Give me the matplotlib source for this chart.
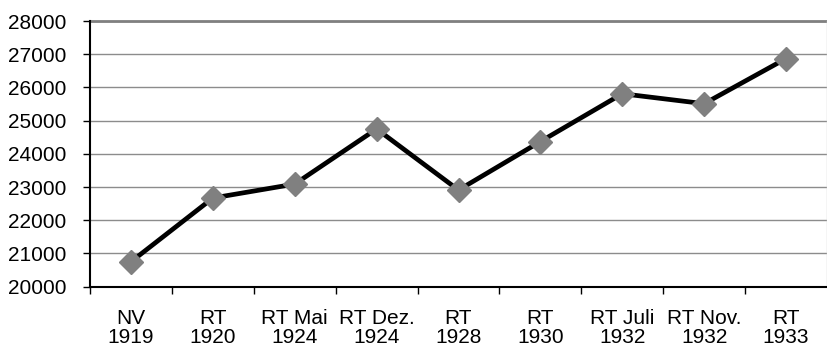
import matplotlib
matplotlib.use("Agg")
import matplotlib.pyplot as plt
import numpy as np

categories = ["NV\n1919", "RT\n1920", "RT Mai\n1924", "RT Dez.\n1924", "RT\n1928",
              "RT\n1930", "RT Juli\n1932", "RT Nov.\n1932", "RT\n1933"]
values = [20750, 22670, 23090, 24750, 22910, 24370, 25810, 25510, 26870]
yticks = [20000, 21000, 22000, 23000, 24000, 25000, 26000, 27000, 28000]

plt.rcParams['font.family'] = ['Liberation Sans', 'DejaVu Sans']

fig = plt.figure(figsize=(8.27, 3.47), dpi=100)
ax = fig.add_axes([90/827, 60.3/347, 737/827, (286.7-21)/347])

x = np.arange(len(categories))
ax.plot(x, values, color='black', lw=3.4, zorder=3, solid_joinstyle='miter')
ax.plot(x, values, ls='none', marker='D', markersize=12, markerfacecolor='#808080',
        markeredgecolor='#808080', zorder=4)

ax.set_xlim(-0.5, len(categories) - 0.5)
ax.set_ylim(20000, 28000)
ax.set_yticks(yticks)
ax.set_yticklabels([str(v) for v in yticks])
ax.yaxis.grid(True, color='#8c8c8c', lw=1.0)
ax.set_axisbelow(True)

ax.set_xticks(x)
ax.set_xticklabels(categories, linespacing=1.0)
ax.set_xticks(np.arange(len(categories)) - 0.5, minor=True)
ax.tick_params(axis='x', which='major', length=0, pad=16, labelsize=15)
ax.tick_params(axis='x', which='minor', length=5, width=1, color='black')
ax.tick_params(axis='y', length=5, width=1, pad=12, labelsize=15)

for s in ['top', 'right']:
    ax.spines[s].set_visible(False)
ax.spines['left'].set_linewidth(1.5)
ax.spines['bottom'].set_linewidth(1.5)
ax.axhline(28000, color='#808080', lw=2.0, clip_on=False)
ax.axvline(len(categories) - 0.5, color='#d0d0d0', lw=1.0)

fig.savefig("out.png", dpi=100)
